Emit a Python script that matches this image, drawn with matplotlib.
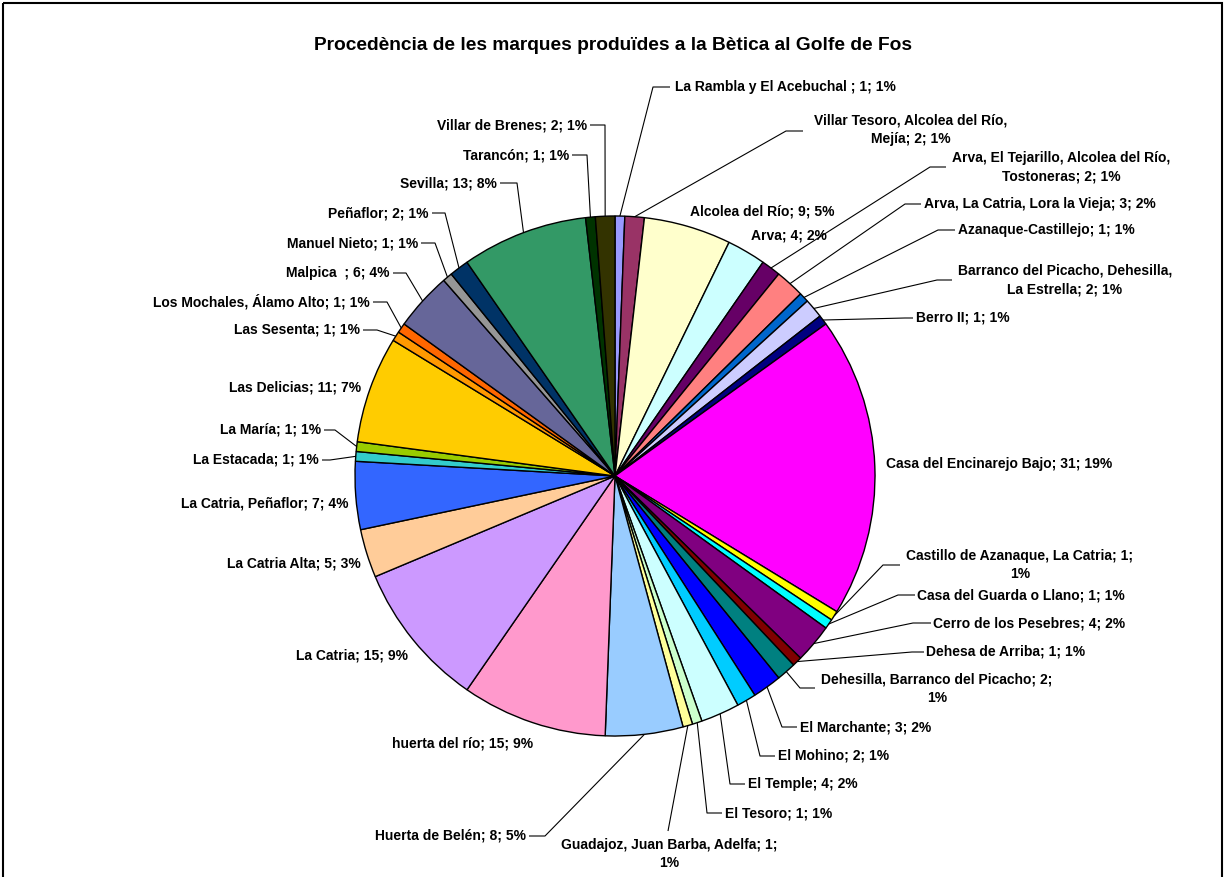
import numpy as np
import matplotlib
matplotlib.use("Agg")
import matplotlib.pyplot as plt
from matplotlib.patches import Rectangle

plt.rcParams['font.family'] = ['Liberation Sans', 'DejaVu Sans']

title = "Procedència de les marques produïdes a la Bètica al Golfe de Fos"

names = [
    "La Rambla y El Acebuchal ", "Villar Tesoro, Alcolea del Río, Mejía", "Alcolea del Río", "Arva",
    "Arva, El Tejarillo, Alcolea del Río, Tostoneras", "Arva, La Catria, Lora la Vieja",
    "Azanaque-Castillejo", "Barranco del Picacho, Dehesilla, La Estrella", "Berro II",
    "Casa del Encinarejo Bajo", "Castillo de Azanaque, La Catria", "Casa del Guarda o Llano",
    "Cerro de los Pesebres", "Dehesa de Arriba", "Dehesilla, Barranco del Picacho",
    "El Marchante", "El Mohino", "El Temple", "El Tesoro", "Guadajoz, Juan Barba, Adelfa",
    "Huerta de Belén", "huerta del río", "La Catria", "La Catria Alta", "La Catria, Peñaflor",
    "La Estacada", "La María", "Las Delicias", "Las Sesenta", "Los Mochales, Álamo Alto",
    "Malpica  ", "Manuel Nieto", "Peñaflor", "Sevilla", "Tarancón", "Villar de Brenes",
]
values = [1, 2, 9, 4, 2, 3, 1, 2, 1, 31, 1, 1, 4, 1, 2, 3, 2, 4, 1, 1, 8, 15, 15, 5, 7,
          1, 1, 11, 1, 1, 6, 1, 2, 13, 1, 2]
colors = ["#9999FF", "#993366", "#FFFFCC", "#CCFFFF", "#660066", "#FF8080", "#0066CC",
          "#CCCCFF", "#000080", "#FF00FF", "#FFFF00", "#00FFFF", "#800080", "#800000",
          "#008080", "#0000FF", "#00CCFF", "#CCFFFF", "#CCFFCC", "#FFFF99", "#99CCFF",
          "#FF99CC", "#CC99FF", "#FFCC99", "#3366FF", "#33CCCC", "#99CC00", "#FFCC00",
          "#FF9900", "#FF6600", "#666699", "#969696", "#003366", "#339966", "#003300",
          "#333300"]

# label layout: (ha, x, y, elbow, stub_end_x, wrap_prefix)
layout = [
    ('left', 675, 87, (653, 87), 670, None),
    ('center', 911, 130, (786, 131), 803, "Villar Tesoro, Alcolea del Río,"),
    ('center', 762, 211, None, None, None),
    ('center', 789, 236, None, None, None),
    ('center', 1061, 167, (930, 167), 946, "Arva, El Tejarillo, Alcolea del Río,"),
    ('left', 924, 204, (905, 204), 921, None),
    ('left', 958, 230, (938, 230), 955, None),
    ('center', 1065, 280, (937, 280), 952, "Barranco del Picacho, Dehesilla,"),
    ('left', 916, 318, (905, 318), 913, None),
    ('center', 999, 464, None, None, None),
    ('center', 1020, 565, (883, 565), 900, "Castillo de Azanaque, La Catria; 1;"),
    ('left', 917, 595, (898, 595), 915, None),
    ('left', 933, 623, (913, 623), 931, None),
    ('left', 926, 652, (912, 652), 924, None),
    ('center', 937, 689, (800, 688), 815, "Dehesilla, Barranco del Picacho; 2;"),
    ('left', 800, 727, (782, 727), 797, None),
    ('left', 778, 756, (760, 756), 775, None),
    ('left', 748, 784, (730, 784), 745, None),
    ('left', 725, 813, (707, 813), 722, None),
    ('center', 669, 854, (668, 831), 668, "Guadajoz, Juan Barba, Adelfa; 1;"),
    ('right', 526, 836, (545, 836), 529, None),
    ('center', 463, 743, None, None, None),
    ('center', 352, 656, None, None, None),
    ('center', 294, 564, None, None, None),
    ('center', 265, 504, None, None, None),
    ('right', 319, 460, (330, 460), 322, None),
    ('right', 321, 430, (335, 430), 324, None),
    ('center', 295, 388, None, None, None),
    ('right', 360, 330, (377, 330), 363, None),
    ('right', 370, 302, (387, 302), 373, None),
    ('right', 390, 273, (406, 273), 393, None),
    ('right', 418, 243, (435, 243), 421, None),
    ('right', 429, 213, (445, 213), 432, None),
    ('right', 497, 183, (517, 183), 500, None),
    ('right', 569, 155, (587, 155), 572, None),
    ('right', 587, 125, (605, 125), 590, None),
]

W, H = 1226, 877
fig = plt.figure(figsize=(W / 100, H / 100), dpi=100)
ax = fig.add_axes([0, 0, 1, 1])

cx, cy, R = 615, 476, 260
wedges, _ = ax.pie(values, colors=colors, startangle=270, counterclock=True,
                   center=(cx, cy), radius=R,
                   wedgeprops=dict(edgecolor='black', linewidth=1.0))
ax.set_xlim(0, W)
ax.set_ylim(H, 0)
ax.set_aspect('equal')
ax.axis('off')

total = sum(values)
fs = 10
for i, (w, name, v) in enumerate(zip(wedges, names, values)):
    pct = int(round(v / total * 100))
    s = f"{name}; {v}; {pct}%"
    ha, x, y, elbow, stub, wrap = layout[i]
    if wrap:
        s = wrap + "\n" + s[len(wrap):].strip()
    if elbow is not None:
        mid = np.deg2rad((w.theta1 + w.theta2) / 2)
        px, py = cx + R * np.cos(mid), cy + R * np.sin(mid)
        ax.plot([px, elbow[0], stub], [py, elbow[1], elbow[1]], color='black', lw=0.8,
                solid_capstyle='butt', zorder=1)
    ax.text(x, y, s, ha=ha, va='center', fontsize=fs, fontweight='bold',
            multialignment='center', linespacing=1.4, color='black')

ax.text(613, 45, title, ha='center', va='center', fontsize=13.8, fontweight='bold')
ax.add_patch(Rectangle((3, 3), 1219, 890, fill=False, edgecolor='black', lw=1.5,
                       clip_on=False))

fig.savefig("out.png", dpi=100)
